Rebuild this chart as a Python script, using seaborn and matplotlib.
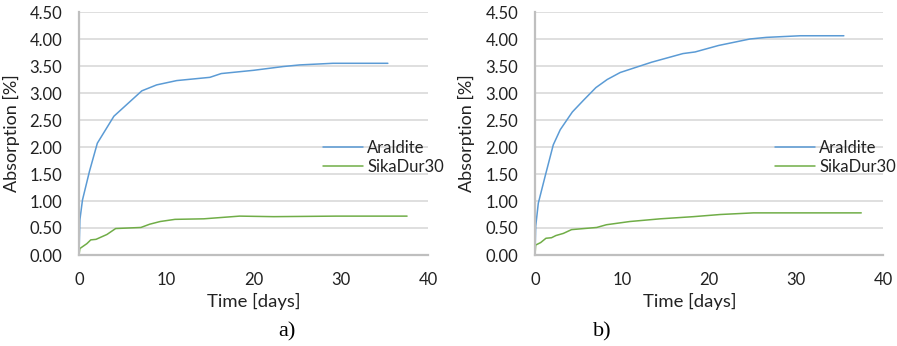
import numpy as np
import pandas as pd
import matplotlib
matplotlib.use("Agg")
import matplotlib.pyplot as plt
import seaborn as sns

# Panel a)
a_araldite_t = [0, 0.1, 0.4, 1.2, 2.1, 4.0, 7.2, 8.9, 11.2, 15.0, 16.3, 20.0, 23.4, 25.3, 29.1, 35.4]
a_araldite_v = [0, 0.65, 1.02, 1.55, 2.07, 2.57, 3.04, 3.15, 3.23, 3.29, 3.36, 3.42, 3.49, 3.52, 3.55, 3.55]
a_sika_t = [0, 0.1, 0.9, 1.35, 1.95, 3.2, 4.2, 7.1, 8.1, 9.3, 11.0, 14.3, 18.4, 22.3, 29.5, 37.6]
a_sika_v = [0, 0.12, 0.21, 0.28, 0.29, 0.38, 0.49, 0.51, 0.57, 0.62, 0.66, 0.67, 0.72, 0.71, 0.72, 0.72]

# Panel b)
b_araldite_t = [0, 0.08, 0.38, 1.15, 2.1, 2.9, 4.0, 4.3, 5.6, 7.0, 8.3, 9.8, 13.4, 17.0, 18.4, 21.1, 24.7, 26.6, 30.5, 35.5]
b_araldite_v = [0, 0.53, 0.96, 1.45, 2.04, 2.32, 2.58, 2.65, 2.87, 3.10, 3.25, 3.38, 3.57, 3.73, 3.76, 3.88, 4.00, 4.03, 4.06, 4.06]
b_sika_t = [0, 0.08, 0.65, 1.26, 1.9, 2.4, 3.26, 4.2, 7.1, 8.2, 10.9, 14.4, 18.2, 21.3, 25.1, 37.5]
b_sika_v = [0, 0.185, 0.23, 0.31, 0.32, 0.36, 0.40, 0.47, 0.51, 0.56, 0.62, 0.67, 0.71, 0.75, 0.78, 0.78]

series_names = ["Araldite", "SikaDur30"]
panel_labels = ["a)", "b)"]
y_ticks = [0, 0.5, 1.0, 1.5, 2.0, 2.5, 3.0, 3.5, 4.0, 4.5]
x_ticks = [0, 10, 20, 30, 40]

sns.set_theme(style="white")
plt.rcParams['font.family'] = ['Lato', 'DejaVu Sans']

BLUE = "#5b9bd5"
GREEN = "#70ad47"
TXT = "#222222"

fig = plt.figure(figsize=(8.97, 3.46), dpi=100)
W, H = 897, 346
axes = [fig.add_axes([79 / W, (H - 255) / H, 349 / W, 243 / H]),
        fig.add_axes([535 / W, (H - 255) / H, 348 / W, 243 / H])]

data = [(a_araldite_t, a_araldite_v, a_sika_t, a_sika_v),
        (b_araldite_t, b_araldite_v, b_sika_t, b_sika_v)]
leg_x = [0.699, 0.690]

for i, (ax, (t1, v1, t2, v2)) in enumerate(zip(axes, data)):
    sns.lineplot(x=t1, y=v1, ax=ax, color=BLUE, lw=1.1, label=series_names[0], sort=False)
    sns.lineplot(x=t2, y=v2, ax=ax, color=GREEN, lw=1.1, label=series_names[1], sort=False)
    ax.set_xlim(0, 40)
    ax.set_ylim(0, 4.5)
    ax.set_xticks(x_ticks)
    ax.set_yticks(y_ticks)
    ax.set_yticklabels([f"{v:.2f}" for v in y_ticks])
    ax.grid(axis="y", color="#d9d9d9", lw=1.2)
    ax.set_axisbelow(True)
    for s in ["top", "right"]:
        ax.spines[s].set_visible(False)
    for s in ["left", "bottom"]:
        ax.spines[s].set_color("#bfbfbf")
        ax.spines[s].set_linewidth(1.6)
    ax.tick_params(axis="both", length=0, labelsize=12, colors=TXT)
    ax.tick_params(axis="y", pad=12)
    ax.tick_params(axis="x", pad=12)
    ax.set_xlabel("Time [days]", fontsize=13.3, color=TXT)
    ax.set_ylabel("Absorption [%]", fontsize=13, color=TXT)
    leg = ax.legend(loc="center left", bbox_to_anchor=(leg_x[i], 0.401), frameon=False,
                    fontsize=12, handlelength=2.4, handletextpad=0.25, labelspacing=0.2,
                    borderaxespad=0, borderpad=0)
    for tx in leg.get_texts():
        tx.set_color(TXT)

axes[0].xaxis.set_label_coords(0.5, -0.156)
axes[0].yaxis.set_label_coords(-0.169, 0.5)
axes[1].xaxis.set_label_coords(0.446, -0.156)
axes[1].yaxis.set_label_coords(-0.172, 0.5)

for x, lab in zip([287, 602], panel_labels):
    fig.text(x / W, 1 - 332 / H, lab, family="Liberation Serif", fontsize=16,
             ha="center", va="center", color="black")

fig.savefig("out.png", dpi=100)
